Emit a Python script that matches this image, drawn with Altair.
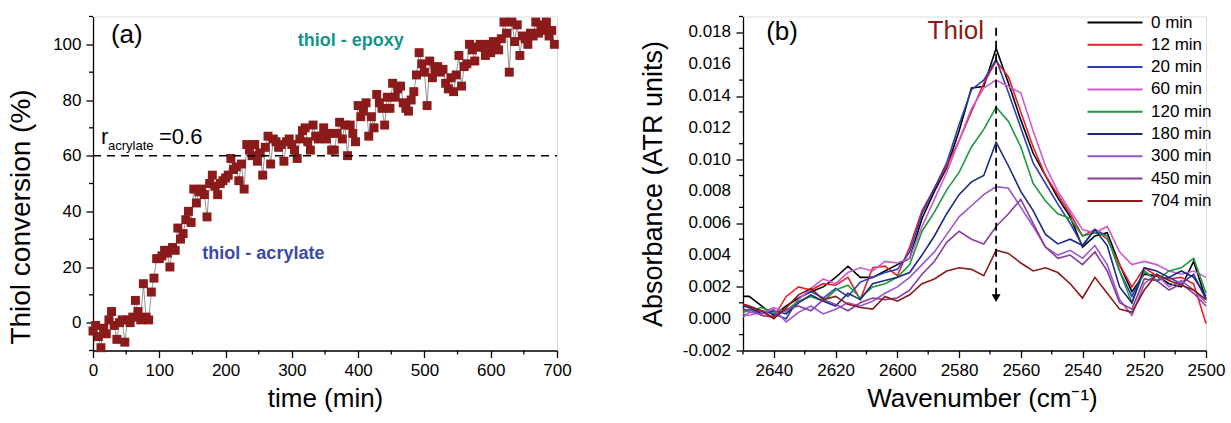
import altair as alt
import pandas as pd

FONT = "Liberation Sans"

# ---------------- panel (a): thiol conversion versus time ----------------
time_min = [0, 4, 8, 12, 16, 20, 24, 28, 32, 36, 40, 44, 48, 52, 56, 60, 64, 68, 72, 76,
            80, 84, 88, 92, 96, 100, 104, 108, 112, 116, 120, 124, 128, 132, 136, 140, 144, 148, 152, 156,
            160, 164, 168, 172, 176, 180, 184, 188, 192, 196, 200, 204, 208, 212, 216, 220, 224, 228, 232, 236,
            240, 244, 248, 252, 256, 260, 264, 268, 272, 276, 280, 284, 288, 292, 296, 300, 304, 308, 312, 316,
            320, 324, 328, 332, 336, 340, 344, 348, 352, 356, 360, 364, 368, 372, 376, 380, 384, 388, 392, 396,
            400, 404, 408, 412, 416, 420, 424, 428, 432, 436, 440, 444, 448, 452, 456, 460, 464, 468, 472, 476,
            480, 484, 488, 492, 496, 500, 504, 508, 512, 516, 520, 524, 528, 532, 536, 540, 544, 548, 552, 556,
            560, 564, 568, 572, 576, 580, 584, 588, 592, 596, 600, 604, 608, 612, 616, 620, 624, 628, 632, 636,
            640, 644, 648, 652, 656, 660, 664, 668, 672, 676, 680, 684, 688, 692, 696]
thiol_conv = [-3, -1, -5, -9, -2, -4, 1, 4, -1, -6, 0, 1, -7, 1, 0, 2, 8, 4, 1, 14,
              2, 1, 11, 16, 23, 23, 24, 26, 25, 20, 27, 26, 34, 30, 32, 37, 40, 36, 48, 43,
              47, 48, 46, 38, 50, 53, 49, 46, 50, 51, 52, 53, 59, 55, 56, 51, 57, 48, 64, 62,
              60, 64, 58, 61, 53, 63, 67, 57, 66, 65, 63, 64, 58, 65, 66, 64, 62, 59, 66, 69,
              70, 65, 62, 71, 67, 66, 67, 70, 66, 68, 62, 62, 68, 72, 66, 71, 60, 71, 68, 65,
              78, 74, 76, 79, 67, 74, 70, 82, 79, 77, 71, 81, 77, 86, 81, 84, 85, 79, 77, 76,
              80, 83, 89, 97, 93, 90, 78, 94, 88, 91, 92, 90, 91, 86, 84, 88, 83, 89, 96, 85,
              92, 93, 100, 98, 94, 99, 100, 99, 96, 100, 97, 101, 100, 98, 102, 108, 104, 90, 108, 101,
              107, 96, 103, 102, 100, 104, 103, 108, 104, 107, 105, 108, 103, 105, 100]

conv_major = [0, 20, 40, 60, 80, 100]
conv_minor = [-10, 10, 30, 50, 70, 90, 110]
time_major = [0, 100, 200, 300, 400, 500, 600, 700]
time_minor = [50, 150, 250, 350, 450, 550, 650]
r_acrylate = 60

# ---------------- panel (b): ATR spectra of the thiol band ----------------
wavenumber = [2650, 2648, 2644, 2640, 2636, 2632, 2628, 2624, 2620, 2616, 2612, 2608, 2604, 2600,
              2596, 2592, 2588, 2584, 2580, 2576, 2572, 2568, 2564, 2560, 2556, 2552, 2548, 2544,
              2540, 2536, 2532, 2528, 2524, 2520, 2516, 2512, 2508, 2504, 2500]

spectra = {
    "0 min":   [0.0014, 0.0014, 0.0008, 0.0002, 0.0008, 0.0013, 0.0017, 0.0020, 0.0026, 0.0033, 0.0026, 0.0026, 0.0030, 0.0034,
                0.0038, 0.0063, 0.0080, 0.0095, 0.0118, 0.0145, 0.0146, 0.0170, 0.0148, 0.0125, 0.0104, 0.0090, 0.0076, 0.0064,
                0.0045, 0.0052, 0.0054, 0.0034, 0.0017, 0.0028, 0.0027, 0.0022, 0.0020, 0.0036, 0.0012],
    "12 min":  [0.0009, 0.0008, 0.0004, 0.0001, 0.0014, 0.0020, 0.0018, 0.0022, 0.0021, 0.0026, 0.0012, 0.0032, 0.0033, 0.0027,
                0.0045, 0.0068, 0.0082, 0.0096, 0.0112, 0.0130, 0.0148, 0.0162, 0.0152, 0.0130, 0.0108, 0.0090, 0.0078, 0.0066,
                0.0052, 0.0056, 0.0050, 0.0034, 0.0020, 0.0032, 0.0027, 0.0025, 0.0026, 0.0022, -0.0003],
    "20 min":  [0.0006, 0.0005, 0.0005, 0.0003, 0.0000, 0.0013, 0.0017, 0.0013, 0.0019, 0.0014, 0.0023, 0.0026, 0.0029, 0.0031,
                0.0042, 0.0066, 0.0082, 0.0098, 0.0122, 0.0144, 0.0150, 0.0163, 0.0142, 0.0120, 0.0098, 0.0085, 0.0072, 0.0060,
                0.0046, 0.0056, 0.0052, 0.0030, 0.0014, 0.0030, 0.0024, 0.0026, 0.0022, 0.0028, 0.0012],
    "60 min":  [0.0003, 0.0002, 0.0004, 0.0007, 0.0004, 0.0012, 0.0019, 0.0025, 0.0022, 0.0029, 0.0032, 0.0030, 0.0036, 0.0035,
                0.0038, 0.0058, 0.0075, 0.0092, 0.0112, 0.0132, 0.0145, 0.0150, 0.0146, 0.0142, 0.0118, 0.0096, 0.0080, 0.0068,
                0.0056, 0.0054, 0.0058, 0.0042, 0.0034, 0.0036, 0.0034, 0.0030, 0.0028, 0.0030, 0.0026],
    "120 min": [0.0004, 0.0005, 0.0007, 0.0004, 0.0005, 0.0011, 0.0014, 0.0011, 0.0018, 0.0021, 0.0013, 0.0020, 0.0022, 0.0026,
                0.0034, 0.0055, 0.0067, 0.0081, 0.0092, 0.0108, 0.0119, 0.0133, 0.0124, 0.0108, 0.0085, 0.0074, 0.0066, 0.0063,
                0.0052, 0.0054, 0.0052, 0.0030, 0.0010, 0.0030, 0.0024, 0.0030, 0.0032, 0.0038, 0.0016],
    "180 min": [0.0008, 0.0007, 0.0003, 0.0005, 0.0003, 0.0010, 0.0015, 0.0011, 0.0008, 0.0016, 0.0012, 0.0022, 0.0024, 0.0026,
                0.0029, 0.0040, 0.0052, 0.0066, 0.0078, 0.0086, 0.0090, 0.0111, 0.0096, 0.0080, 0.0068, 0.0053, 0.0047, 0.0050,
                0.0046, 0.0056, 0.0046, 0.0020, 0.0010, 0.0032, 0.0030, 0.0026, 0.0030, 0.0026, 0.0014],
    "300 min": [0.0001, 0.0004, 0.0003, 0.0006, -0.0002, 0.0004, 0.0008, 0.0003, 0.0006, 0.0010, 0.0008, 0.0011, 0.0016, 0.0020,
                0.0026, 0.0034, 0.0042, 0.0053, 0.0064, 0.0071, 0.0078, 0.0083, 0.0082, 0.0070, 0.0058, 0.0045, 0.0040, 0.0043,
                0.0038, 0.0046, 0.0034, 0.0012, 0.0002, 0.0022, 0.0028, 0.0020, 0.0024, 0.0018, 0.0010],
    "450 min": [0.0005, 0.0006, 0.0002, 0.0001, 0.0006, 0.0008, 0.0005, 0.0012, 0.0009, 0.0005, 0.0010, 0.0013, 0.0012, 0.0013,
                0.0018, 0.0028, 0.0036, 0.0048, 0.0055, 0.0050, 0.0047, 0.0058, 0.0066, 0.0075, 0.0060, 0.0045, 0.0038, 0.0040,
                0.0034, 0.0042, 0.0030, 0.0010, 0.0006, 0.0025, 0.0024, 0.0018, 0.0022, 0.0016, 0.0008],
    "704 min": [0.0009, 0.0008, 0.0005, 0.0000, 0.0007, 0.0015, 0.0019, 0.0012, 0.0014, 0.0009, 0.0007, 0.0006, 0.0014, 0.0011,
                0.0015, 0.0022, 0.0025, 0.0030, 0.0032, 0.0031, 0.0027, 0.0043, 0.0041, 0.0035, 0.0030, 0.0032, 0.0029, 0.0022,
                0.0013, 0.0026, 0.0016, 0.0006, 0.0004, 0.0018, 0.0028, 0.0024, 0.0021, 0.0018, 0.0012],
}
series_names = list(spectra)
series_colors = ["#000000", "#e8202a", "#2b3fb6", "#cf5acf", "#1f993b",
                 "#1d2a82", "#9a56cf", "#8a3d9c", "#8b1a1a"]

wn_major = [2640, 2620, 2600, 2580, 2560, 2540, 2520, 2500]
wn_minor = [2650, 2630, 2610, 2590, 2570, 2550, 2530, 2510]
abs_major = [-0.002, 0.0, 0.002, 0.004, 0.006, 0.008, 0.010, 0.012, 0.014, 0.016, 0.018]
abs_minor = [-0.001, 0.001, 0.003, 0.005, 0.007, 0.009, 0.011, 0.013, 0.015, 0.017, 0.019]
thiol_band = 2568
arrow_top, arrow_tip = 0.0183, 0.0013

W_A, W_B, H = 464, 463, 334
MAJOR_LEN, MINOR_LEN, LABEL_PAD = 7, 4, 5


def axis(title, values, title_pad, title_size, fmt=None, labels=True, **more):
    extra = dict(more)
    if fmt:
        extra["format"] = fmt
    return alt.Axis(
        title=title, values=values, tickSize=MAJOR_LEN, labels=labels,
        grid=False, domainColor="black", domainWidth=1.3, tickColor="black", tickWidth=1.3,
        labelFont=FONT, labelFontSize=17, labelColor="black", labelPadding=LABEL_PAD,
        titleFont=FONT, titleFontSize=title_size, titleFontWeight="normal", titleColor="black",
        titlePadding=title_pad, labelFlush=False, labelOverlap=False, **extra,
    )


def minor_x(values, field):
    # short outward ticks below the x axis, placed through the x scale
    return alt.Chart(pd.DataFrame({field: values})).mark_rule(color="black", strokeWidth=1.3).encode(
        x=f"{field}:Q", y=alt.value(H), y2=alt.value(H + MINOR_LEN))


def minor_y(values, field):
    # short outward ticks left of the y axis, placed through the y scale
    return alt.Chart(pd.DataFrame({field: values})).mark_rule(color="black", strokeWidth=1.3).encode(
        y=f"{field}:Q", x=alt.value(0), x2=alt.value(-MINOR_LEN))


def note(df, **style):
    return alt.Chart(df).mark_text(align="left", baseline="alphabetic", font=FONT, **style)


# ---- panel (a) ----
conv_df = pd.DataFrame({"time": time_min, "conv": thiol_conv})
x_a = alt.X("time:Q", scale=alt.Scale(domain=[0, 700], nice=False, zero=False),
            axis=axis("time (min)", time_major, 7, 26))
y_a = alt.Y("conv:Q", scale=alt.Scale(domain=[-10, 110], nice=False, zero=False),
            axis=axis("Thiol conversion (%)", conv_major, 17, 28, titleY=200))

trace = alt.Chart(conv_df).mark_line(color="#7a7a7a", strokeWidth=0.8).encode(x=x_a, y=y_a)
squares = alt.Chart(conv_df).mark_square(size=80, color="#8b1a1a", opacity=1).encode(x="time:Q", y="conv:Q")
ratio_line = alt.Chart(pd.DataFrame({"time": [0], "time_end": [700], "conv": [r_acrylate]})).mark_rule(
    color="black", strokeWidth=1.5, strokeDash=[8, 6]).encode(x="time:Q", x2="time_end:Q", y="conv:Q")

notes_a = [
    note(pd.DataFrame({"time": [27], "conv": [100.5], "t": ["(a)"]}), fontSize=26, color="black")
    .encode(x="time:Q", y="conv:Q", text="t:N"),
    note(pd.DataFrame({"time": [309], "conv": [99.3], "t": ["thiol - epoxy"]}), fontSize=18,
         fontWeight="bold", color="#17938d").encode(x="time:Q", y="conv:Q", text="t:N"),
    note(pd.DataFrame({"time": [165], "conv": [22.9], "t": ["thiol - acrylate"]}), fontSize=18,
         fontWeight="bold", color="#3a4aa8").encode(x="time:Q", y="conv:Q", text="t:N"),
    note(pd.DataFrame({"time": [12], "conv": [64.2], "t": ["r"]}), fontSize=22, color="black")
    .encode(x="time:Q", y="conv:Q", text="t:N"),
    note(pd.DataFrame({"time": [22.6], "conv": [62.0], "t": ["acrylate"]}), fontSize=13, color="black")
    .encode(x="time:Q", y="conv:Q", text="t:N"),
    note(pd.DataFrame({"time": [99.6], "conv": [64.2], "t": ["=0.6"]}), fontSize=22, color="black")
    .encode(x="time:Q", y="conv:Q", text="t:N"),
]

panel_a = alt.layer(trace, squares, ratio_line, minor_x(time_minor, "time"), minor_y(conv_minor, "conv"),
                    *notes_a).properties(width=W_A, height=H)

# ---- panel (b) ----
rows = []
for name in series_names:
    for w, a in zip(wavenumber, spectra[name]):
        rows.append({"wavenumber": w, "absorbance": a, "series": name})
spec_df = pd.DataFrame(rows)

x_b = alt.X("wavenumber:Q", scale=alt.Scale(domain=[2500, 2650], reverse=True, nice=False, zero=False),
            axis=axis("Wavenumber (cm\u207b\u00b9)", wn_major, 7, 26, fmt="d", titleX=239))
# the absorbance tick labels are written by a text layer next to the axis
y_b = alt.Y("absorbance:Q", scale=alt.Scale(domain=[-0.002, 0.019], nice=False, zero=False),
            axis=axis("Absorbance (ATR units)", abs_major, 68, 27, labels=False))

curves = alt.Chart(spec_df).mark_line(strokeWidth=1.6).encode(
    x=x_b, y=y_b,
    color=alt.Color("series:N", scale=alt.Scale(domain=series_names, range=series_colors),
                    legend=alt.Legend(title=None, orient="none", legendX=386, legendY=-2.5,
                                      symbolType="M-10,0H1", symbolSize=100, symbolStrokeWidth=2,
                                      labelFont=FONT, labelFontSize=17, labelColor="black",
                                      labelOffset=5, rowPadding=4.3, padding=0)),
    order=alt.Order("series_order:Q"),
).transform_calculate(series_order="indexof(" + str(series_names) + ", datum.series)")

abs_labels = alt.Chart(pd.DataFrame({"absorbance": abs_major,
                                     "label": [f"{v:.3f}" for v in abs_major]})).mark_text(
    align="right", baseline="middle", font=FONT, fontSize=17, color="black").encode(
    y="absorbance:Q", x=alt.value(-(MAJOR_LEN + LABEL_PAD)), text="label:N")

arrow_df = pd.DataFrame({"wavenumber": [thiol_band], "absorbance": [arrow_top], "tip": [arrow_tip]})
arrow_shaft = alt.Chart(arrow_df).mark_rule(color="black", strokeWidth=1.8, strokeDash=[8, 5]).encode(
    x="wavenumber:Q", y="absorbance:Q", y2="tip:Q")
arrow_head = alt.Chart(pd.DataFrame({"wavenumber": [thiol_band], "absorbance": [arrow_tip]})).mark_point(
    shape="triangle-down", size=80, filled=True, color="black", opacity=1).encode(
    x="wavenumber:Q", y="absorbance:Q")

notes_b = [
    note(pd.DataFrame({"wavenumber": [2642.5], "absorbance": [0.01755], "t": ["(b)"]}), fontSize=26,
         color="black").encode(x="wavenumber:Q", y="absorbance:Q", text="t:N"),
    note(pd.DataFrame({"wavenumber": [2590.2], "absorbance": [0.0176], "t": ["Thiol"]}), fontSize=26,
         color="#8b1a1a").encode(x="wavenumber:Q", y="absorbance:Q", text="t:N"),
]

panel_b = alt.layer(curves, arrow_shaft, arrow_head, minor_x(wn_minor, "wavenumber"),
                    minor_y(abs_minor, "absorbance"), abs_labels, *notes_b).properties(width=W_B, height=H)

chart = (
    alt.hconcat(panel_a, panel_b, spacing=66)
    .resolve_legend(color="independent")
    .properties(padding={"left": 7, "top": 13.5, "right": 5, "bottom": 5})
    .configure_view(stroke=None)
    .configure(background="white")
)

chart.save("out.html", embed_options={"renderer": "svg", "actions": False})
